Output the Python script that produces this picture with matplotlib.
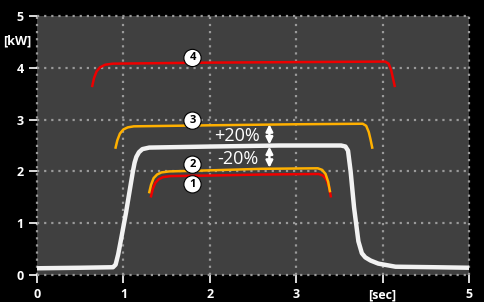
import matplotlib.pyplot as plt

# white: measured power curve
white_t = [0.0, 0.5, 0.88, 0.91, 0.94, 0.98, 1.03, 1.08, 1.11, 1.13, 1.15, 1.18, 1.22, 1.3, 2.0, 2.8, 3.52, 3.57, 3.6, 3.63, 3.67, 3.72, 3.76, 3.8, 3.86, 3.95, 4.15, 4.6, 5.0]
white_p = [0.13, 0.14, 0.15, 0.2, 0.4, 0.75, 1.2, 1.7, 2.0, 2.17, 2.28, 2.37, 2.43, 2.46, 2.48, 2.5, 2.5, 2.48, 2.4, 2.0, 1.3, 0.65, 0.42, 0.34, 0.28, 0.22, 0.16, 0.15, 0.14]

# 1: red lower
r1_t = [1.32, 1.34, 1.37, 1.41, 1.46, 1.55, 2.0, 2.6, 3.26, 3.31, 3.35, 3.38, 3.40]
r1_p = [1.52, 1.66, 1.78, 1.85, 1.89, 1.91, 1.92, 1.94, 1.95, 1.92, 1.84, 1.70, 1.52]

# 2: orange lower
o2_t = [1.30, 1.32, 1.35, 1.39, 1.44, 1.53, 2.0, 2.6, 3.25, 3.30, 3.34, 3.37, 3.39]
o2_p = [1.60, 1.74, 1.87, 1.94, 1.98, 2.0, 2.02, 2.05, 2.06, 2.03, 1.95, 1.80, 1.62]

# 3: orange upper
o3_t = [0.91, 0.93, 0.96, 1.0, 1.05, 1.12, 2.0, 3.0, 3.77, 3.81, 3.84, 3.86, 3.88]
o3_p = [2.46, 2.60, 2.73, 2.81, 2.85, 2.87, 2.89, 2.91, 2.92, 2.88, 2.76, 2.62, 2.46]

# 4: red upper
r4_t = [0.64, 0.66, 0.69, 0.73, 0.79, 0.88, 2.0, 3.0, 4.03, 4.07, 4.10, 4.12, 4.14]
r4_p = [3.65, 3.80, 3.93, 4.01, 4.06, 4.08, 4.10, 4.11, 4.12, 4.08, 3.95, 3.80, 3.65]

labels = ["1", "2", "3", "4"]
label_x = [1.8, 1.8, 1.8, 1.8]
label_y = [1.75, 2.13, 2.98, 4.19]

xticklabels = ["0", "1", "2", "3", "[sec]", "5"]
yticks = [0, 1, 2, 3, 4, 5]

RED = "#ee0000"
ORANGE = "#ffb000"

plt.rcParams["font.family"] = ["Open Sans", "DejaVu Sans"]

fig = plt.figure(figsize=(4.84, 3.02), dpi=100, facecolor="black")
ax = fig.add_axes([0.0764, 0.0894, 0.8926, 0.8576])
ax.set_facecolor("#404040")
ax.set_xlim(0, 5)
ax.set_ylim(0, 5)
for s in ax.spines.values():
    s.set_visible(False)

ax.grid(True, color="#9a9a9a", linestyle=(0, (1, 2.2)), linewidth=1.6, zorder=0)
ax.set_axisbelow(True)
ax.set_xticks(range(6))
ax.set_xticklabels(xticklabels)
ax.set_yticks(yticks)
ax.tick_params(colors="white", length=6, width=1.2, labelsize=9)
for lab in ax.get_xticklabels() + ax.get_yticklabels():
    lab.set_fontweight("bold")
    lab.set_color("white")
for gl in ax.get_xgridlines() + ax.get_ygridlines():
    gl.set_clip_on(False)

ax.text(-0.07, 4.52, "[kW]", color="white", fontsize=9, fontweight="bold",
        ha="right", va="center")

ax.plot(white_t, white_p, color="#f2f2f2", lw=3.2, solid_joinstyle="round", zorder=3)
ax.plot(r1_t, r1_p, color=RED, lw=1.8, zorder=4)
ax.plot(o2_t, o2_p, color=ORANGE, lw=1.8, zorder=4)
ax.plot(o3_t, o3_p, color=ORANGE, lw=1.8, zorder=4)
ax.plot(r4_t, r4_p, color=RED, lw=1.8, zorder=4)

for lab, x, y in zip(labels, label_x, label_y):
    ax.text(x, y, lab, color="black", fontsize=8, fontweight="bold",
            ha="center", va="center", zorder=6,
            bbox=dict(boxstyle="circle,pad=0.28", fc="white", ec="black", lw=0.8))

ax.text(2.31, 2.69, "+20%", color="white", fontsize=13, ha="center", va="center", zorder=6)
ax.text(2.33, 2.23, "-20%", color="white", fontsize=13, ha="center", va="center", zorder=6)
arrow = dict(arrowstyle="<|-|>", color="white", lw=1.8, mutation_scale=10, shrinkA=0, shrinkB=0)
ax.annotate("", xy=(2.69, 2.91), xytext=(2.69, 2.52), arrowprops=arrow, zorder=6)
ax.annotate("", xy=(2.69, 2.48), xytext=(2.69, 2.07), arrowprops=arrow, zorder=6)

fig.savefig("out.png", dpi=100, facecolor="black")
